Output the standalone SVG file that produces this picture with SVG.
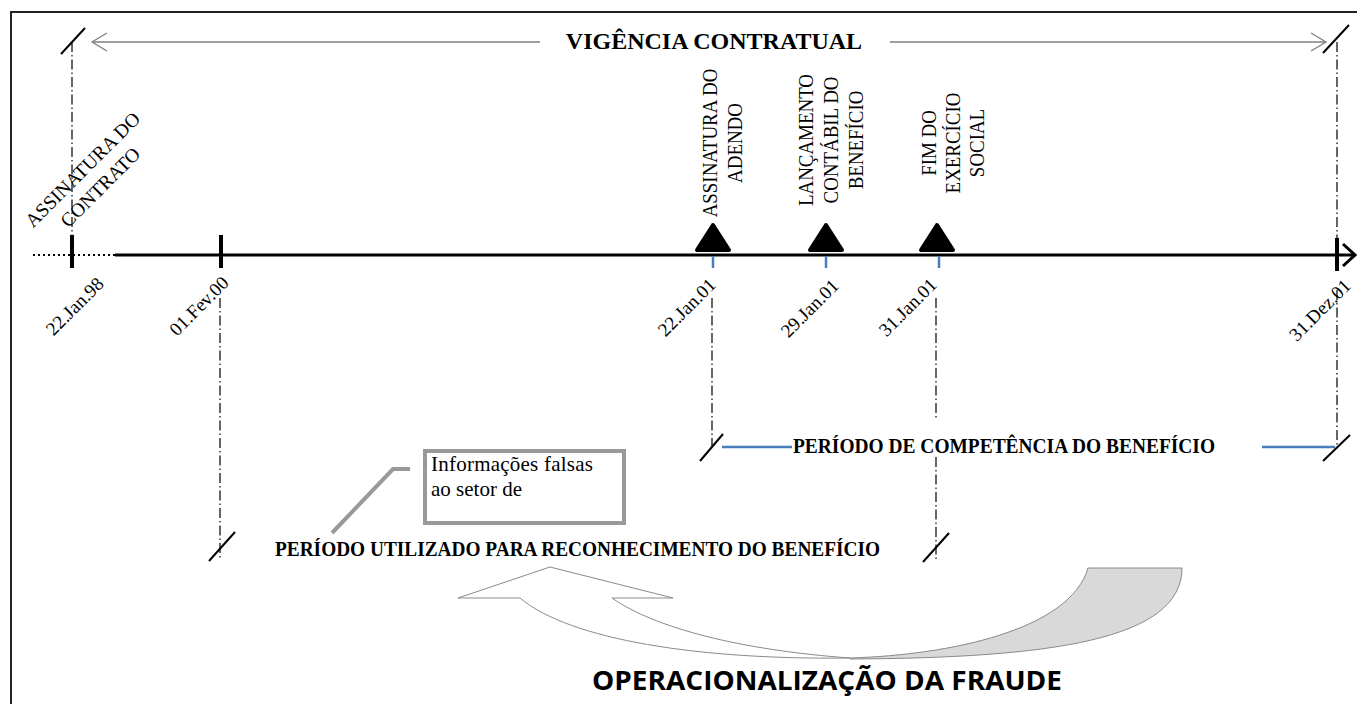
<svg xmlns="http://www.w3.org/2000/svg" width="1357" height="704" viewBox="0 0 1357 704">
<style>
.serif{font-family:"Liberation Serif","Times New Roman",serif;fill:#000}
.lbl{font-size:19.5px}
.date{font-size:19px;text-anchor:end}
.vlab{font-size:22px;text-anchor:middle}
.bold{font-weight:bold}
.dd{stroke:#000;stroke-width:1.2;stroke-dasharray:10 3 1.5 3;fill:none}
.slash{stroke:#000;stroke-width:2}
.tick{stroke:#000;stroke-width:4}
.blue{stroke:#4a7ebb;stroke-width:2.5}
.gray{stroke:#808080;stroke-width:1.3;fill:none}
.tri{fill:#000;stroke:#000;stroke-width:4;stroke-linejoin:round}
</style>
<rect x="11" y="12" width="1360" height="710" fill="#fff" stroke="#222" stroke-width="2"/>

<g id="connectors">
  <line class="gray" x1="92" y1="42" x2="540" y2="42"/>
  <line class="gray" x1="890" y1="42" x2="1326" y2="42"/>
  <polyline class="gray" points="107,33 92,42 107,51"/>
  <polyline class="gray" points="1311,33 1326,42 1311,51"/>
  <line x1="33" y1="255" x2="115" y2="255" stroke="#000" stroke-width="2" stroke-dasharray="2 3"/>
  <line x1="115" y1="255" x2="1353" y2="255" stroke="#000" stroke-width="3"/>
  <polyline points="1343,244 1355,255 1343,266" fill="none" stroke="#000" stroke-width="3"/>
  <line class="dd" x1="72" y1="42" x2="72" y2="236"/>
  <line class="dd" x1="220" y1="298" x2="220" y2="558"/>
  <line class="dd" x1="712" y1="298" x2="712" y2="446"/>
  <line class="dd" x1="936" y1="298" x2="936" y2="420"/>
  <line class="dd" x1="936" y1="457" x2="936" y2="560"/>
  <line class="dd" x1="1337" y1="42" x2="1337" y2="238"/>
  <line class="dd" x1="1337" y1="290" x2="1337" y2="448"/>
  <line class="slash" x1="61" y1="54" x2="85" y2="28"/>
  <line class="slash" x1="1323" y1="53" x2="1349" y2="25"/>
  <line class="slash" x1="209" y1="561" x2="235" y2="532"/>
  <line class="slash" x1="700" y1="461" x2="723" y2="434"/>
  <line class="slash" x1="923" y1="562" x2="949" y2="533"/>
  <line class="slash" x1="1323" y1="461" x2="1350" y2="435"/>
  <line class="blue" x1="722" y1="447" x2="792" y2="447"/>
  <line class="blue" x1="1262" y1="447" x2="1335" y2="447"/>
  <polyline points="332,533 393,469 410,469" fill="none" stroke="#999" stroke-width="4"/>
  <path d="M458,598 L550,567 L673,598 L612,598 C655,628 740,650 850,658 C700,660 570,640 520,598 Z" fill="#fff" stroke="#8a8a8a" stroke-width="1"/>
  <path d="M850,658 C950,655 1070,630 1088,568 L1182,568 C1182,640 1050,658 850,659 Z" fill="#d9d9d9" stroke="#8a8a8a" stroke-width="1"/>
</g>

<g id="title">
  <text class="serif bold" x="714" y="49" font-size="24" text-anchor="middle">VIGÊNCIA CONTRATUAL</text>
</g>

<g id="ev-contrato">
  <line class="tick" x1="72" y1="235" x2="72" y2="268"/>
  <g transform="translate(91.5,178.5) rotate(-45)">
    <text class="serif lbl" x="0" y="-6" text-anchor="middle">ASSINATURA DO</text>
    <text class="serif lbl" x="0" y="19" text-anchor="middle">CONTRATO</text>
  </g>
  <text class="serif date" transform="translate(105,285) rotate(-45)">22.Jan.98</text>
</g>

<g id="ev-fev00">
  <line class="tick" x1="221" y1="235" x2="221" y2="268"/>
  <text class="serif date" transform="translate(230,284) rotate(-45)">01.Fev.00</text>
</g>

<g id="ev-adendo">
  <path class="tri" d="M713,225 L697,250 L729,250 Z"/>
  <line class="blue" x1="713" y1="256" x2="713" y2="268" stroke-width="3"/>
  <g transform="translate(0,143)">
    <text class="serif vlab" transform="translate(717,0) rotate(-90) scale(0.86,1)">ASSINATURA DO</text>
    <text class="serif vlab" transform="translate(742,0) rotate(-90) scale(0.86,1)">ADENDO</text>
  </g>
  <text class="serif date" transform="translate(717,286) rotate(-45)">22.Jan.01</text>
</g>

<g id="ev-lancamento">
  <path class="tri" d="M826,225 L810,250 L842,250 Z"/>
  <line class="blue" x1="826" y1="256" x2="826" y2="268" stroke-width="3"/>
  <g transform="translate(0,140)">
    <text class="serif vlab" transform="translate(813,0) rotate(-90) scale(0.86,1)">LANÇAMENTO</text>
    <text class="serif vlab" transform="translate(838,0) rotate(-90) scale(0.86,1)">CONTÁBIL DO</text>
    <text class="serif vlab" transform="translate(863,0) rotate(-90) scale(0.86,1)">BENEFÍCIO</text>
  </g>
  <text class="serif date" transform="translate(840,287) rotate(-45)">29.Jan.01</text>
</g>

<g id="ev-fim">
  <path class="tri" d="M937,225 L921,250 L953,250 Z"/>
  <line class="blue" x1="939" y1="256" x2="939" y2="268" stroke-width="3"/>
  <g transform="translate(0,143)">
    <text class="serif vlab" transform="translate(936,0) rotate(-90) scale(0.86,1)">FIM DO</text>
    <text class="serif vlab" transform="translate(960,0) rotate(-90) scale(0.86,1)">EXERCÍCIO</text>
    <text class="serif vlab" transform="translate(984,0) rotate(-90) scale(0.86,1)">SOCIAL</text>
  </g>
  <text class="serif date" transform="translate(938,286) rotate(-45)">31.Jan.01</text>
</g>

<g id="ev-dez01">
  <line class="tick" x1="1337" y1="238" x2="1337" y2="271"/>
  <text class="serif date" transform="translate(1352,287) rotate(-45)">31.Dez.01</text>
</g>

<g id="periodo-competencia">
  <text class="serif bold" x="793" y="453" font-size="21" textLength="422" lengthAdjust="spacingAndGlyphs">PERÍODO DE COMPETÊNCIA DO BENEFÍCIO</text>
</g>

<g id="periodo-utilizado">
  <text class="serif bold" x="275" y="556" font-size="21" textLength="605" lengthAdjust="spacingAndGlyphs">PERÍODO UTILIZADO PARA RECONHECIMENTO DO BENEFÍCIO</text>
</g>

<g id="callout">
  <rect x="425" y="451" width="199" height="72" fill="#fff" stroke="#999" stroke-width="4"/>
  <text class="serif" x="431" y="471" font-size="21" textLength="162" lengthAdjust="spacing">Informações falsas</text>
  <text class="serif" x="431" y="496" font-size="21">ao setor de</text>
</g>

<g id="fraude">
  <text x="592" y="690" font-family="'Open Sans','Liberation Sans',sans-serif" font-weight="bold" font-size="26" textLength="470" lengthAdjust="spacingAndGlyphs" fill="#000">OPERACIONALIZAÇÃO DA FRAUDE</text>
</g>
</svg>
